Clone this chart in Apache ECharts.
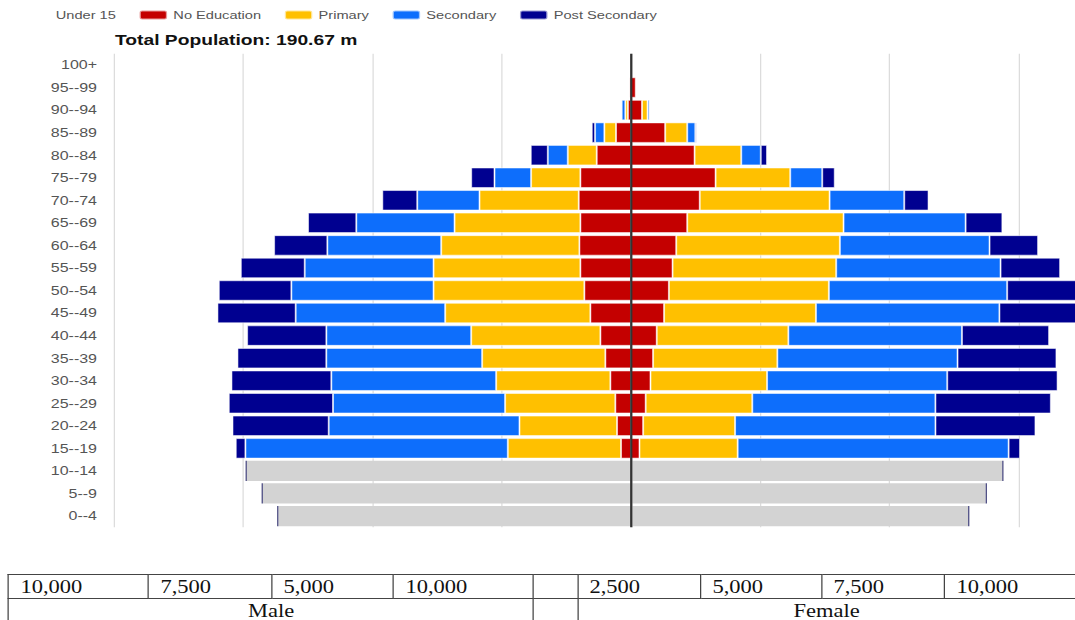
<!DOCTYPE html>
<html><head><meta charset="utf-8">
<script src="https://cdn.jsdelivr.net/npm/echarts@6/dist/echarts.min.js"></script>
<style>
html,body{margin:0;padding:0;background:#fff;overflow:hidden;width:1075px;height:620px;}
#wrap{position:absolute;left:0;top:0;width:940px;height:620px;transform:scaleX(1.25);transform-origin:0 0;}
#chart{position:absolute;left:0;top:0;width:940px;height:560px;}
#tbl{position:absolute;left:6.4px;top:574px;width:900px;border-collapse:collapse;font-family:'Liberation Serif','Times New Roman',serif;font-size:18px;color:#111;table-layout:fixed;}
#tbl td{border:1px solid #444;height:23px;padding:0 0 0 9px;line-height:22px;white-space:nowrap;overflow:hidden;}
#tbl td.c{text-align:center;padding:0;}
#tbl td.fem{padding:0 0 0 0;text-align:left;}
#tbl td.fem span{display:inline-block;width:397.6px;text-align:center;}
</style>
</head><body>
<div id="wrap"><div id="chart"></div><table id="tbl"></table></div>
<script>
// ---- data (thousands) ----
const ageGroups = ['0--4','5--9','10--14','15--19','20--24','25--29','30--34','35--39','40--44','45--49','50--54','55--59','60--64','65--69','70--74','75--79','80--84','85--89','90--94','95--99','100+'];
const seriesNames = ['Under 15','No Education','Primary','Secondary','Post Secondary'];
const titleText = 'Total Population: 190.67 m';

const maleUnder15 = [6820,7120,7430,null,null,null,null,null,null,null,null,null,null,null,null,null,null,null,null,null,null];
const maleNoEdu = [null,null,null,193,270,303,399,496,592,786,902,979,998,979,1011,979,663,290,60,30,5];
const malePrimary = [null,null,null,2190,1887,2132,2209,2383,2499,2808,2917,2840,2673,2434,1919,953,560,225,50,null,null];
const maleSecondary = [null,null,null,5075,3690,3329,3188,3014,2801,2892,2750,2492,2202,1900,1204,708,386,180,70,null,null];
const malePost = [25,25,25,187,1861,2016,1932,1719,1533,1513,1404,1236,1030,934,676,451,330,64,20,null,null];

const femaleUnder15 = [6520,6860,7180,null,null,null,null,null,null,null,null,null,null,null,null,null,null,null,null,null,null];
const femaleNoEdu = [null,null,null,164,235,284,377,427,498,640,733,804,875,1088,1330,1636,1230,661,213,92,10];
const femalePrimary = [null,null,null,1899,1778,2062,2255,2404,2546,2937,3094,3165,3165,3023,2511,1444,903,427,107,null,null];
const femaleSecondary = [null,null,null,5241,3876,3542,3485,3485,3357,3549,3449,3179,2895,2361,1444,619,377,156,36,null,null];
const femalePost = [25,25,25,220,1934,2233,2134,1913,1686,1600,1500,1152,939,711,470,242,121,25,21,null,null];

const tableMaleTicks = ['10,000','7,500','5,000','10,000'];
const tableFemaleTicks = ['2,500','5,000','7,500','10,000'];
const tableSexLabels = ['Male','Female'];

// ---- table ----
const colW = [112,98.4,97.6,112,35.2,98.4,96.8,98.4,151.2];
(function(){
  const t = document.getElementById('tbl');
  let h = '<colgroup>' + colW.map(w=>'<col style="width:'+w+'px">').join('') + '</colgroup>';
  h += '<tr>' + tableMaleTicks.map(s=>'<td>'+s+'</td>').join('') + '<td></td>' + tableFemaleTicks.map(s=>'<td>'+s+'</td>').join('') + '</tr>';
  h += '<tr><td class="c" colspan="4">'+tableSexLabels[0]+'</td><td></td><td class="fem" colspan="4"><span>'+tableSexLabels[1]+'</span></td></tr>';
  t.innerHTML = h;
})();

// ---- chart ----
const FONT = "'Liberation Sans', Arial, sans-serif";
const colors = {'Under 15':'#d3d3d3','No Education':'#c40000','Primary':'#ffc000','Secondary':'#0d6efc','Post Secondary':'#000090'};

function mk(name, arr, sign){
  return {
    name: name, type:'bar', stack:'pop', barCategoryGap:'10%',
    itemStyle:{color:colors[name], borderColor:'rgba(255,255,255,0.6)', borderWidth:0.8},
    emphasis:{disabled:true},
    data: arr.map(v => v==null ? '-' : sign*v)
  };
}
const series = [
  mk('No Education', maleNoEdu, -1), mk('No Education', femaleNoEdu, 1),
  mk('Primary', malePrimary, -1), mk('Primary', femalePrimary, 1),
  mk('Secondary', maleSecondary, -1), mk('Secondary', femaleSecondary, 1),
  mk('Under 15', maleUnder15, -1), mk('Under 15', femaleUnder15, 1),
  mk('Post Secondary', malePost, -1), mk('Post Secondary', femalePost, 1)
];
series[6].itemStyle.borderWidth = 0; series[7].itemStyle.borderWidth = 0;
series[8].data = series[8].data.map((v,i)=> i<3 ? {value:v, itemStyle:{borderWidth:0, color:'#4a4a80'}} : v);
series[9].data = series[9].data.map((v,i)=> i<3 ? {value:v, itemStyle:{borderWidth:0, color:'#4a4a80'}} : v);
series[9].markLine = {
  silent:true, symbol:['none','none'], label:{show:false},
  lineStyle:{color:'#333', width:1.8, type:'solid'},
  data:[{xAxis:0}]
};

const chart = echarts.init(document.getElementById('chart'), null, {renderer:'svg'});
chart.setOption({
  animation:false,
  textStyle:{fontFamily:FONT},
  title:{text:titleText, left:92, top:32, padding:0,
    textStyle:{fontSize:15.4, fontWeight:'bold', color:'#111', fontFamily:FONT}},
  legend:{left:17.6, top:9, padding:0, itemWidth:22, itemHeight:9, itemGap:18, selectedMode:false,
    textStyle:{fontSize:11.7, color:'#555', fontFamily:FONT},
    data:[{name:seriesNames[0], itemStyle:{opacity:0}}, seriesNames[1], seriesNames[2], seriesNames[3], seriesNames[4]]},
  grid:{left:91.2, right:21.6, top:53.7, bottom:32.7},
  xAxis:{type:'value', min:-10000, max:10000, interval:2500,
    axisLabel:{show:false}, axisLine:{show:false}, axisTick:{show:false},
    splitLine:{lineStyle:{color:'#dcdcdc', width:1}}},
  yAxis:{type:'category', data:ageGroups, axisLine:{show:false}, axisTick:{show:false},
    axisLabel:{fontSize:12.8, color:'#555', margin:13.6, fontFamily:FONT}},
  series:series
});
</script>
</body></html>
